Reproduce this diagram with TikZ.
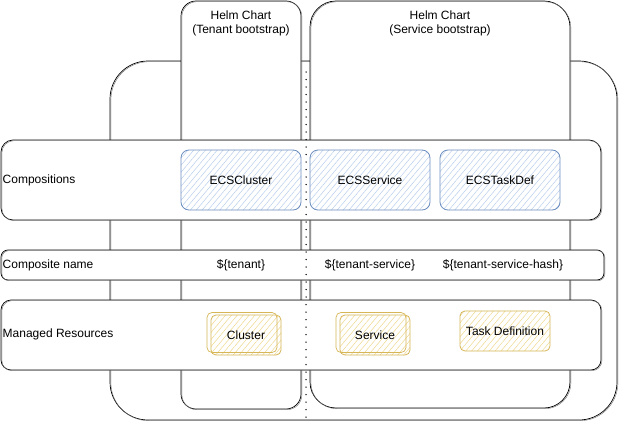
\documentclass[tikz,border=0pt]{standalone}
\usepackage{fontspec}
\setmainfont{Liberation Sans}
\usetikzlibrary{positioning,patterns.meta}

\definecolor{compLine}{HTML}{6C8EBF}
\definecolor{compHatch}{HTML}{B9CEEE}
\definecolor{resLine}{HTML}{D6B656}
\definecolor{resHatch}{HTML}{F0D88E}

\tikzset{
  rough/.style={postaction={draw=black!55, line width=0.4pt, transform canvas={shift={(0.9pt,-0.7pt)}}}},
  outline/.style={rectangle, draw=black, line width=0.7pt, fill=white, inner sep=0pt, rough},
  hatch/.style={preaction={fill=white}, pattern={Lines[angle=50, distance=4.5pt, line width=0.5pt]}, pattern color=#1},
  comp/.style={rectangle, draw=compLine, line width=0.8pt, rounded corners=8pt, hatch=compHatch,
    minimum width=120pt, minimum height=60pt, inner sep=0pt},
  res/.style={rectangle, draw=resLine, line width=0.8pt, rounded corners=5pt, hatch=resHatch,
    inner sep=0pt},
  twice/.style={postaction={draw=resLine, line width=0.7pt, transform canvas={shift={(-4pt,2.5pt)}}}},
  rowlabel/.style={anchor=west, inner sep=0pt},
  split/.style={line width=1.5pt, line cap=round, dash pattern=on 0pt off 7.5pt}
}

\begin{document}
\begin{tikzpicture}[x=1pt, y=-1pt, font=\fontsize{12}{14}\selectfont]
    \useasboundingbox (0,0) rectangle (621,423);

    % Cluster boundary
    \node[outline, rounded corners=38pt, minimum width=507pt, minimum height=359pt] (platform) at (363.5,240.5) {};

    % Helm charts
    \node[outline, rounded corners=15pt, minimum width=120pt, minimum height=408pt] (tenantChart) at (241,205) {};
    \node[outline, rounded corners=26pt, minimum width=260pt, minimum height=407pt] (serviceChart) at (440,204.5) {};
    \node[below=9.5pt of tenantChart.north, align=center, inner sep=0pt] (tenantTitle) {Helm Chart\\(Tenant bootstrap)};
    \node[below=9.5pt of serviceChart.north, align=center, inner sep=0pt] (serviceTitle) {Helm Chart\\(Service bootstrap)};

    % Layers
    \node[outline, rounded corners=12pt, minimum width=600pt, minimum height=80pt] (compRow) at (301,180) {};
    \node[outline, rounded corners=7pt, minimum width=603pt, minimum height=30pt] (nameRow) at (302.5,265) {};
    \node[outline, rounded corners=10pt, minimum width=600pt, minimum height=70pt] (resRow) at (301,335) {};
    \node[rowlabel] (compLabel) at (2.5,180) {Compositions};
    \node[rowlabel] (nameLabel) at (2.5,265) {Composite name};
    \node[rowlabel] (resLabel) at (2.5,334) {Managed Resources};

    % Tenant / service split
    \coordinate (splitTop) at (306,72);
    \coordinate (splitBottom) at (306,423);
    \draw[split] (splitTop) -- (splitBottom);

    % Compositions
    \node[comp] (ecsCluster) at (241,180) {ECSCluster};
    \node[comp] (ecsService) at (370,180) {ECSService};
    \node[comp] (ecsTaskDef) at (500,180) {ECSTaskDef};

    % Composite names
    \node (tenantName) at (241,265) {\$\{tenant\}};
    \node (serviceName) at (370,265) {\$\{tenant-service\}};
    \node (hashName) at (503,265) {\$\{tenant-service-hash\}};

    % Managed resources
    \node[res, twice, minimum width=70pt, minimum height=40pt] (cluster) at (246,335) {Cluster};
    \node[res, twice, minimum width=70pt, minimum height=40pt] (service) at (375,335) {Service};
    \node[res, minimum width=90pt, minimum height=40pt] (taskDef) at (505,331) {Task Definition};
\end{tikzpicture}
\end{document}
